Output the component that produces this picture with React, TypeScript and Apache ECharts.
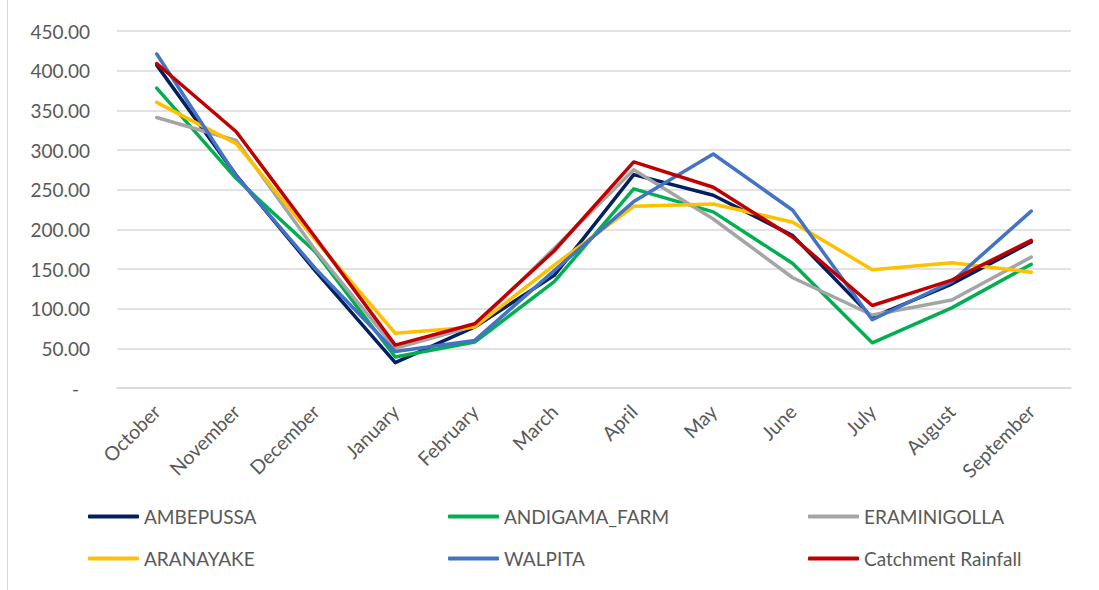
import React, { useEffect, useRef } from "react";
import * as echarts from "echarts";

const months = ["October", "November", "December", "January", "February", "March", "April", "May", "June", "July", "August", "September"];
const seriesNames = ["AMBEPUSSA", "ANDIGAMA_FARM", "ERAMINIGOLLA", "ARANAYAKE", "WALPITA", "Catchment Rainfall"];
const ambepussa = [407, 268, 147, 32, 77, 142, 269, 243, 192, 89, 131, 184];
const andigamaFarm = [378, 264, 171, 39, 58, 134, 251, 222, 157, 57, 101, 156];
const eraminigolla = [341, 312, 173, 50, 78, 176, 275, 213, 139, 92, 111, 165];
const aranayake = [360, 308, 186, 69, 77, 155, 229, 232, 209, 149, 158, 146];
const walpita = [421, 267, 150, 46, 60, 148, 235, 295, 224, 86, 134, 223];
const catchmentRainfall = [409, 323, 189, 54, 81, 173, 285, 253, 190, 104, 136, 186];
const colors = ["#002060", "#00B050", "#A5A5A5", "#FFC000", "#4472C4", "#C00000"];

const FONT = "Lato";
const TEXT = "#595959";

export default function App() {
  const ref = useRef<HTMLDivElement>(null);
  useEffect(() => {
    document.body.style.margin = "0";
    const chart = echarts.init(ref.current!, null, { renderer: "svg" });
    const allData = [ambepussa, andigamaFarm, eraminigolla, aranayake, walpita, catchmentRainfall];
    const legendLefts = [88, 448, 808];
    const legendTops = [507, 549];
    chart.setOption({
      animation: false,
      backgroundColor: "#ffffff",
      grid: { left: 117, right: 28, top: 31, bottom: 202, containLabel: false },
      xAxis: {
        type: "category",
        data: months,
        boundaryGap: true,
        axisLine: { show: true, lineStyle: { color: "#d9d9d9", width: 1.5 } },
        axisTick: { show: false },
        axisLabel: {
          rotate: 45,
          margin: 20,
          color: TEXT,
          fontFamily: FONT,
          fontSize: 19.5,
          interval: 0,
          align: "right",
          verticalAlign: "middle",
        },
      },
      yAxis: {
        type: "value",
        min: 0,
        max: 450,
        interval: 50,
        axisLine: { show: false },
        axisTick: { show: false },
        splitLine: { lineStyle: { color: "#d9d9d9", width: 1.5 } },
        axisLabel: {
          margin: 27,
          color: TEXT,
          fontFamily: FONT,
          fontSize: 19,
          formatter: (v: number) => (v === 0 ? "-\u2007" : v.toFixed(2)),
        },
      },
      legend: seriesNames.map((n, i) => ({
        data: [n],
        left: legendLefts[i % 3],
        top: legendTops[Math.floor(i / 3)],
        icon: "roundRect",
        itemWidth: 51,
        itemHeight: 4,
        padding: 0,
        textStyle: { fontFamily: FONT, fontSize: 19, color: TEXT },
      })),
      graphic: [
        { type: "line", shape: { x1: 7.5, y1: 0, x2: 7.5, y2: 590 }, style: { stroke: "#d9d9d9", lineWidth: 1 } },
      ],
      series: seriesNames.map((n, i) => ({
        name: n,
        type: "line",
        data: allData[i],
        symbol: "none",
        color: colors[i],
        lineStyle: { width: 3.5, color: colors[i], cap: "round", join: "round" },
      })),
    });
    return () => chart.dispose();
  }, []);
  return <div ref={ref} style={{ width: 1099, height: 590 }} />;
}
